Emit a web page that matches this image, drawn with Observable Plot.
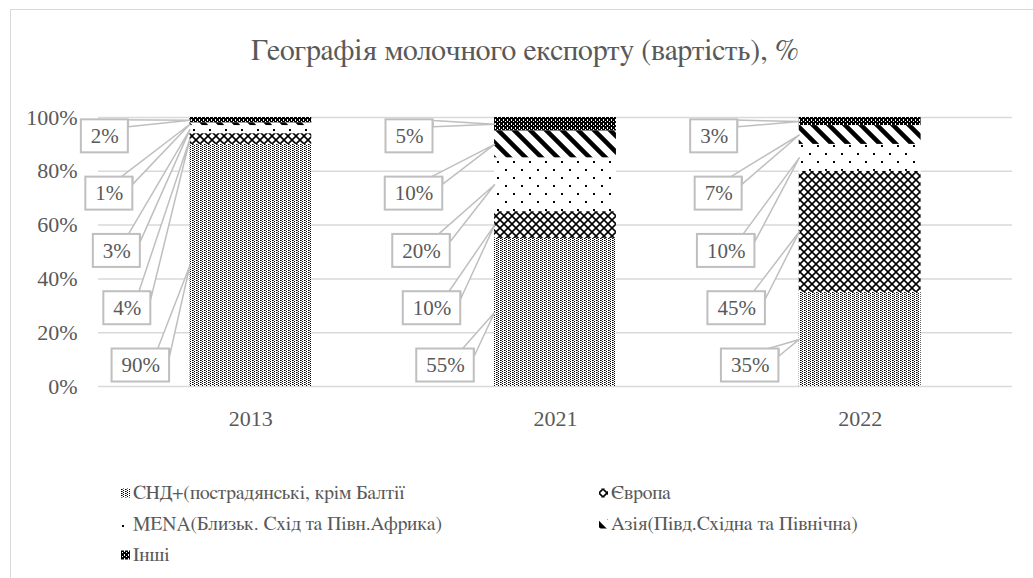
<!DOCTYPE html>
<html>
<head>
<meta charset="utf-8">
<script src="https://cdn.jsdelivr.net/npm/d3@7"></script>
<script src="https://cdn.jsdelivr.net/npm/@observablehq/plot@0.6"></script>
<style>
  html, body { margin: 0; padding: 0; background: #fff; }
  #wrap { position: relative; width: 1033px; height: 578px; overflow: hidden; background: #fff; }
  #frame { position: absolute; left: 10px; top: 9px; width: 1100px; height: 700px; border: 1.5px solid #d9d9d9; box-sizing: border-box; }
  #chart { position: absolute; left: 0; top: 0; }
  #overlay { position: absolute; left: 0; top: 0; }
</style>
</head>
<body>
<svg width="0" height="0" style="position:absolute">
  <defs>
    <pattern id="p0" patternUnits="userSpaceOnUse" width="4" height="2">
      <rect width="4" height="2" fill="#fff"/>
      <rect x="0" y="0" width="1.6" height="1" fill="#000"/>
      <rect x="2" y="1" width="1" height="1" fill="#000"/>
    </pattern>
    <pattern id="p1" patternUnits="userSpaceOnUse" width="8" height="8">
      <rect width="8" height="8" fill="#fff"/>
      <path d="M0,0 L8,8 M8,0 L0,8" stroke="#000" stroke-width="1.6"/>
    </pattern>
    <pattern id="p2" patternUnits="userSpaceOnUse" width="16" height="16">
      <rect width="16" height="16" fill="#fff"/>
      <rect x="1" y="1" width="2" height="2" fill="#000"/>
      <rect x="9" y="9" width="2" height="2" fill="#000"/>
    </pattern>
    <pattern id="p3" patternUnits="userSpaceOnUse" width="16" height="16">
      <rect width="16" height="16" fill="#fff"/>
      <path d="M-4,-4 L20,20 M-4,12 L4,20 M12,-4 L20,4" stroke="#000" stroke-width="4.5"/>
    </pattern>
    <pattern id="p4" patternUnits="userSpaceOnUse" width="4" height="4">
      <rect width="4" height="4" fill="#000"/>
      <rect x="1" y="1" width="1" height="1" fill="#fff"/>
      <rect x="3" y="3" width="1" height="1" fill="#fff"/>
      <rect x="3" y="0" width="1" height="1" fill="#fff"/>
    </pattern>
  </defs>
</svg>
<div id="wrap">
  <div id="frame"></div>
  <div id="chart"></div>
  <svg id="overlay" width="1033" height="578"></svg>
</div>
<script>
// ---- data ----
const title = "Географія молочного експорту (вартість), %";
const years = ["2013", "2021", "2022"];
const regions = [
  "СНД+(пострадянські, крім Балтії",
  "Європа",
  "MENA(Близьк. Схід та Півн.Африка)",
  "Азія(Півд.Східна та Північна)",
  "Інші"
];
const cisValues = [90, 55, 35];
const europeValues = [4, 10, 45];
const menaValues = [3, 20, 10];
const asiaValues = [1, 10, 7];
const otherValues = [2, 5, 3];
const yTicks = [0, 20, 40, 60, 80, 100];
const patterns = ["url(#p0)", "url(#p1)", "url(#p2)", "url(#p3)", "url(#p4)"];

// ---- layout ----
const W = 1033, H = 430;
const mL = 98, mR = 21, mT = 117, mB = 44;
const xDomain = [-0.5, 2.5];
const pxX = (W - mL - mR) / (xDomain[1] - xDomain[0]);
const pxY = (H - mT - mB) / 100;
const halfBar = 0.2;
const gray = "#595959";
const lineGray = "#bfbfbf";
const numFont = "Liberation Serif";
const txtFont = "FreeSerif, 'Liberation Serif', serif";
const labelSize = 21;
const tickSize = 22;

const series = [cisValues, europeValues, menaValues, asiaValues, otherValues];
const rows = [];
years.forEach((yr, i) => {
  let acc = 0;
  series.forEach((vals, r) => {
    const v = vals[i];
    rows.push({i, year: yr, region: regions[r], r, value: v, y1: acc, y2: acc + v});
    acc += v;
  });
});

const ctx = document.createElement("canvas").getContext("2d");
function textWidth(str, size, fam) { ctx.font = `${size}px ${fam}`; return ctx.measureText(str).width; }

// callouts: column of boxes left of each bar, pointer to segment middle
const labels = [], boxes = [], wedges = [];
rows.forEach((d, n) => {
  const k = 4 - d.r;
  const text = d.value + "%";
  const tw = textWidth(text, labelSize, `"${numFont}"`);
  const cx = d.i + (-146 + 3 * k + 1.5 * k * k) / pxX;
  const cy = 93 - 21.3 * k;
  const hw = (tw / 2 + 9.5) / pxX, hh = 16.5 / pxY;
  labels.push({x: cx, y: cy, text});
  boxes.push({x1: cx - hw, x2: cx + hw, y1: cy - hh, y2: cy + hh});
  const right = cx + hw, top = cy + hh;
  const apex = {x: d.i - halfBar, y: d.y1 + d.value / 2};
  wedges.push({id: n, x: right - 12 / pxX, y: top});
  wedges.push({id: n, x: apex.x, y: apex.y});
  wedges.push({id: n, x: right, y: top - 7 / pxY});
  wedges.push({id: n, x: right, y: top});
});

const chart = Plot.plot({
  width: W, height: H,
  marginLeft: mL, marginRight: mR, marginTop: mT, marginBottom: mB,
  style: {fontFamily: numFont, background: "transparent", overflow: "visible"},
  x: {type: "linear", domain: xDomain},
  y: {domain: [0, 100]},
  color: {domain: regions, range: patterns},
  marks: [
    Plot.ruleY(yTicks, {stroke: "#d9d9d9", strokeWidth: 1.5}),
    Plot.rect(rows, {x1: d => d.i - halfBar, x2: d => d.i + halfBar, y1: "y1", y2: "y2", fill: "region"}),
    Plot.line(wedges, {x: "x", y: "y", z: "id", fill: "white", stroke: lineGray, strokeWidth: 1.5, curve: "linear"}),
    Plot.rect(boxes, {x1: "x1", x2: "x2", y1: "y1", y2: "y2", fill: "white", stroke: lineGray, strokeWidth: 2}),
    Plot.text(labels, {x: "x", y: "y", text: "text", fill: gray, fontSize: labelSize, fontFamily: numFont}),
    Plot.axisY({ticks: yTicks, tickFormat: d => d + "%", tickSize: 0, tickPadding: 21, fontSize: tickSize, fill: gray, label: null}),
    Plot.axisX({ticks: [0, 1, 2], tickFormat: i => years[i], tickSize: 0, tickPadding: 24, fontSize: tickSize, fill: gray, label: null})
  ]
});
document.getElementById("chart").appendChild(chart);

// title + legend (SVG text)
const ov = d3.select("#overlay");
const titleSize = 28 * 548 / textWidth(title, 28, txtFont);
ov.append("text")
  .attr("x", 525).attr("y", 51).attr("text-anchor", "middle").attr("dominant-baseline", "central")
  .attr("font-family", txtFont).attr("font-size", titleSize.toFixed(1)).attr("fill", gray)
  .text(title);
const legendSize = 19 * 272 / textWidth(regions[0], 19, txtFont);
const legendX = [121, 599], legendY0 = 493, legendDY = 31;
regions.forEach((name, r) => {
  const col = r % 2, row = Math.floor(r / 2);
  const g = ov.append("g").attr("transform", `translate(${legendX[col]},${legendY0 + row * legendDY})`);
  g.append("rect").attr("x", 0).attr("y", -4.5).attr("width", 9).attr("height", 9).attr("fill", patterns[r]);
  g.append("text").attr("x", 12).attr("y", 0).attr("dominant-baseline", "central")
    .attr("font-family", txtFont).attr("font-size", legendSize.toFixed(1)).attr("fill", gray).text(name);
});
</script>
</body>
</html>
